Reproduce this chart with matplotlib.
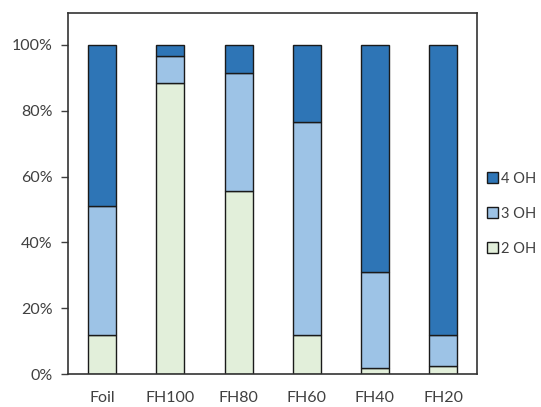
import matplotlib.pyplot as plt
import numpy as np

# datos (porcentaje de cada especie)
samples = ['Foil', 'FH100', 'FH80', 'FH60', 'FH40', 'FH20']
oh2 = [12.0, 88.5, 55.5, 12.0, 1.7, 2.5]
oh3 = [39.0, 8.0, 36.0, 64.5, 29.2, 9.5]
oh4 = [49.0, 3.5, 8.5, 23.5, 69.1, 88.0]

plt.rcParams['font.family'] = ['Lato', 'DejaVu Sans']
text_color = '#404040'

fig = plt.figure(figsize=(5.41, 4.07), dpi=100)
ax = fig.add_axes([0.126, 0.081, 0.756, 0.887])

x = np.arange(len(samples))
w = 0.41
edge = dict(edgecolor='#1a1a1a', linewidth=1.0)
ax.bar(x, oh2, w, color='#E2EFDA', label='2 OH', **edge)
ax.bar(x, oh3, w, bottom=oh2, color='#9DC3E6', label='3 OH', **edge)
ax.bar(x, oh4, w, bottom=np.add(oh2, oh3), color='#2E75B6', label='4 OH', **edge)

ax.set_xlim(-0.5, 5.5)
ax.set_ylim(0, 109.7)
ax.set_yticks(range(0, 101, 20))
ax.set_yticklabels([f'{v}%' for v in range(0, 101, 20)])
ax.set_xticks(x)
ax.set_xticklabels(samples)
ax.tick_params(axis='y', length=5, width=1, colors='#404040', labelsize=11.5, pad=6)
ax.tick_params(axis='x', length=0, labelsize=11.5, colors=text_color, pad=12)
for s in ax.spines.values():
    s.set_color('#333333')
    s.set_linewidth(1.2)

h, l = ax.get_legend_handles_labels()
leg = fig.legend(h[::-1], l[::-1], loc='center left', bbox_to_anchor=(0.889, 0.475),
                 frameon=False, fontsize=10.5, handlelength=0.75, handleheight=0.75,
                 handletextpad=0.25, labelspacing=1.45, borderaxespad=0)
for t in leg.get_texts():
    t.set_color(text_color)

fig.savefig('out.png', dpi=100)
